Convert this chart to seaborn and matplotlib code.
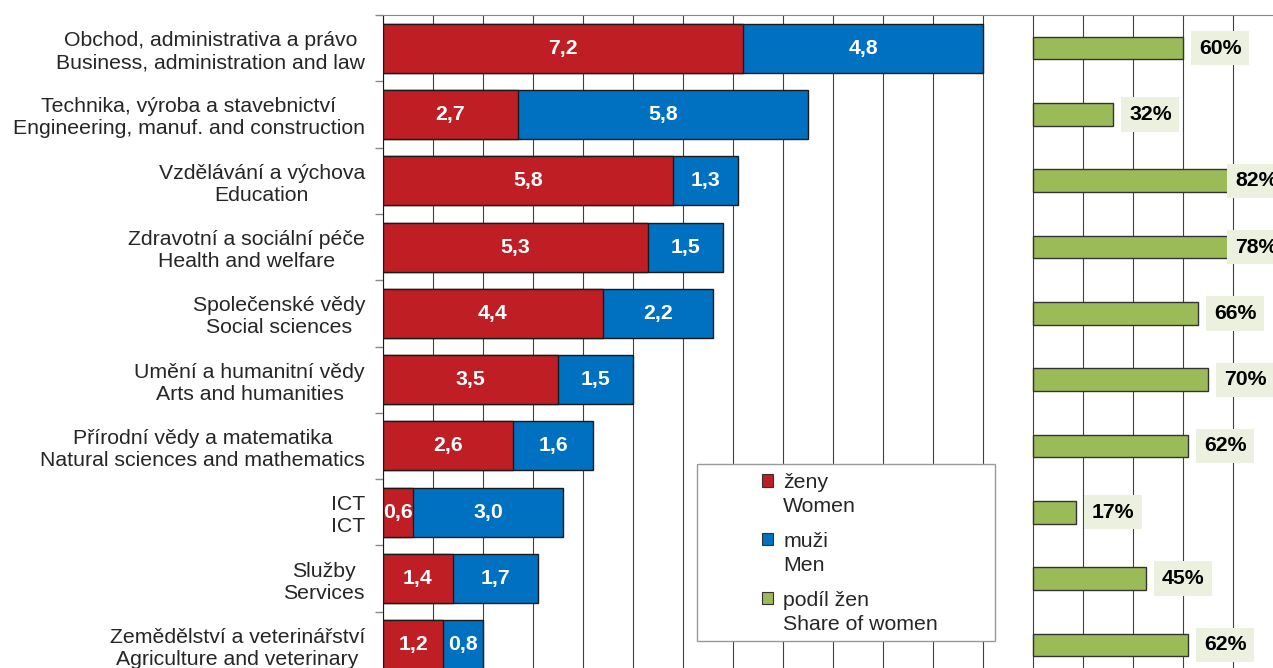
import matplotlib
matplotlib.use('Agg')
import matplotlib.pyplot as plt
import matplotlib.patches as mpatches
from matplotlib.legend_handler import HandlerPatch
from matplotlib.ticker import FixedLocator, MultipleLocator
import pandas as pd
import seaborn as sns

# data
obory = ['Obchod, administrativa a právo\nBusiness, administration and law',
         'Technika, výroba a stavebnictví\nEngineering, manuf. and construction',
         'Vzdělávání a výchova\nEducation',
         'Zdravotní a sociální péče\nHealth and welfare',
         'Společenské vědy\nSocial sciences',
         'Umění a humanitní vědy\nArts and humanities',
         'Přírodní vědy a matematika\nNatural sciences and mathematics',
         'ICT\nICT',
         'Služby\nServices',
         'Zemědělství a veterinářství\nAgriculture and veterinary']
zeny = [7.2, 2.7, 5.8, 5.3, 4.4, 3.5, 2.6, 0.6, 1.4, 1.2]
muzi = [4.8, 5.8, 1.3, 1.5, 2.2, 1.5, 1.6, 3.0, 1.7, 0.8]
podil = [60, 32, 82, 78, 66, 70, 62, 17, 45, 62]

df = pd.DataFrame({'obor': obory, 'zeny': zeny, 'muzi': muzi, 'podil': podil})
df['celkem'] = df['zeny'] + df['muzi']

RED = '#be1e24'
BLUE = '#0070c0'
GREEN = '#9bbb59'
LBL_BG = '#ebf1de'
FS = 15.3

sns.set_style('white')
plt.rcParams['font.family'] = ['Liberation Sans', 'DejaVu Sans']

fig = plt.figure(figsize=(12.73, 6.68), dpi=100)
ax = fig.add_axes([383 / 1273, 1 - 678 / 668, 890 / 1273, 663 / 668])

# stacked bars: totals in blue, women on top in red
sns.barplot(data=df, x='celkem', y='obor', color=BLUE, width=0.74,
            edgecolor='#1a1a1a', linewidth=1, saturation=1, ax=ax, zorder=3)
sns.barplot(data=df, x='zeny', y='obor', color=RED, width=0.74,
            edgecolor='#1a1a1a', linewidth=1, saturation=1, ax=ax, zorder=4)

# share of women, drawn to the right of the main bars
start = 13
scale = 5 / 100
ypos = list(range(len(df)))
ax.barh(ypos, df['podil'] * scale, left=start, height=0.34, color=GREEN,
        edgecolor='#333333', linewidth=1, zorder=3)

for i, r in df.iterrows():
    ax.text(r['zeny'] / 2, i, f"{r['zeny']:.1f}".replace('.', ','), ha='center', va='center',
            color='white', fontsize=FS, fontweight='bold', zorder=5)
    ax.text(r['zeny'] + r['muzi'] / 2, i, f"{r['muzi']:.1f}".replace('.', ','), ha='center',
            va='center', color='white', fontsize=FS, fontweight='bold', zorder=5)
    lx = min(start + r['podil'] * scale + 0.32, 17.04)
    ax.text(lx, i, f"{r['podil']}%", ha='left', va='center', color='black', fontsize=FS,
            fontweight='bold', zorder=6,
            bbox=dict(boxstyle='square,pad=0.36', facecolor=LBL_BG, edgecolor='none'))

ax.set_xlim(0, 17.8)
ax.set_ylim(9.5, -0.5)
ax.set_xlabel('')
ax.set_ylabel('')

ax.xaxis.set_major_locator(MultipleLocator(1))
ax.grid(axis='x', color='#404040', linewidth=0.8, zorder=0)
ax.grid(axis='y', visible=False)
ax.set_axisbelow(True)
ax.tick_params(axis='x', bottom=False, labelbottom=False)

ax.set_yticks(ypos)
ax.set_yticklabels(obory, fontsize=FS, multialignment='center')
ax.tick_params(axis='y', which='major', length=0, pad=13)
ax.yaxis.set_minor_locator(FixedLocator([i - 0.5 for i in range(11)]))
ax.tick_params(axis='y', which='minor', length=6, width=1, color='#888888', left=True)

ax.spines['top'].set_color('#888888')
ax.spines['left'].set_color('#1a1a1a')
ax.spines['right'].set_visible(False)
ax.spines['bottom'].set_visible(False)


# legend handle sits next to the first line of a two-line label
def first_line_patch(legend, orig_handle, xdescent, ydescent, width, height, fontsize):
    return mpatches.Rectangle((-xdescent, -ydescent + 0.66 * fontsize), width, height)


fig.patches.append(mpatches.Rectangle((697 / 1273, 1 - 641 / 668), 298 / 1273, 177 / 668,
                                      transform=fig.transFigure, facecolor='white',
                                      edgecolor='#999999', linewidth=1, zorder=10))
handles = [mpatches.Patch(facecolor=RED, edgecolor='#333333', linewidth=0.8),
           mpatches.Patch(facecolor=BLUE, edgecolor='#333333', linewidth=0.8),
           mpatches.Patch(facecolor=GREEN, edgecolor='#333333', linewidth=0.8)]
leg = fig.legend(handles, ['ženy\nWomen', 'muži\nMen', 'podíl žen\nShare of women'],
                 loc='upper left', bbox_to_anchor=(762 / 1273, 1 - 473 / 668),
                 frameon=False, fontsize=FS, handlelength=0.52, handleheight=0.52,
                 handletextpad=0.48, labelspacing=0.76, borderaxespad=0, borderpad=0,
                 handler_map={mpatches.Patch: HandlerPatch(patch_func=first_line_patch)})
for t in leg.get_texts():
    t.set_linespacing(1.32)
leg.set_zorder(11)

fig.savefig('out.png', dpi=100)
